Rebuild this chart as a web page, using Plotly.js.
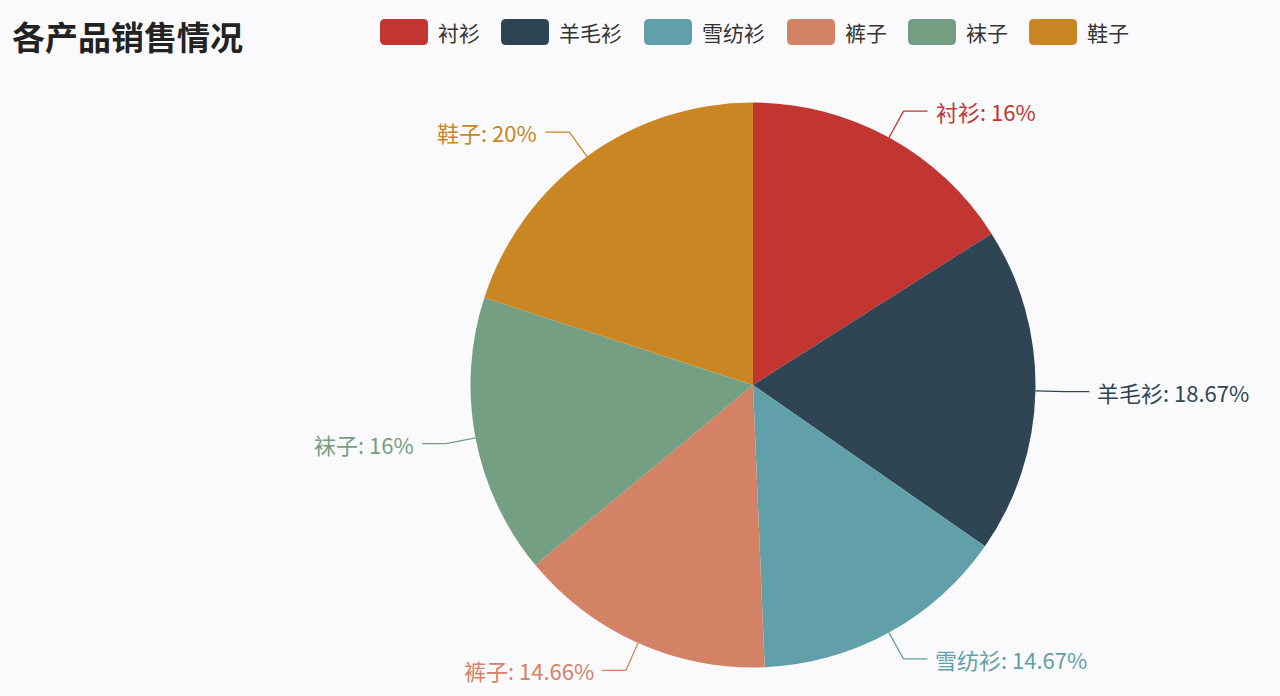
<!DOCTYPE html>
<html>
<head>
<meta charset="utf-8">
<script src="https://cdn.plot.ly/plotly-3.0.1.min.js"></script>
<style>
  html, body { margin: 0; padding: 0; background: #fafafc; }
  #chart { width: 1280px; height: 696px; }
</style>
</head>
<body>
<div id="chart"></div>
<script>
// 数据
var products = ['衬衫', '羊毛衫', '雪纺衫', '裤子', '袜子', '鞋子'];
var shares = [16, 18.67, 14.67, 14.66, 16, 20];
var colors = ['#c23531', '#2f4554', '#61a0a8', '#d48265', '#749f83', '#ca8622'];

var W = 1280, H = 696;
var cx = 753, cy = 385, R = 282.5;   // 饼图中心和半径 (像素)
var fontFam = '"Noto Sans CJK SC", "Noto Sans", sans-serif';

function px(x) { return x / W; }
function py(y) { return 1 - y / H; }

var pie = {
    type: 'pie',
    labels: products,
    values: shares,
    sort: false,
    direction: 'clockwise',
    rotation: 0,
    textinfo: 'none',
    hoverinfo: 'label+percent',
    marker: { colors: colors, line: { width: 0 } },
    domain: { x: [px(cx - R), px(cx + R)], y: [py(cy + R), py(cy - R)] },
    showlegend: false
};

var shapes = [];
var annotations = [];

// 引导线和标签
var total = shares.reduce(function (a, b) { return a + b; }, 0);
var acc = 0;
for (var i = 0; i < shares.length; i++) {
    var mid = (acc + shares[i] / 2) / total * 2 * Math.PI;
    acc += shares[i];
    var sx = Math.sin(mid), sy = -Math.cos(mid);
    var x0 = cx + R * sx, y0 = cy + R * sy;
    var x1 = cx + (R + 30) * sx, y1 = cy + (R + 30) * sy;
    var dir = sx >= 0 ? 1 : -1;
    var x2 = x1 + dir * 24;
    shapes.push({
        type: 'path', xref: 'paper', yref: 'paper',
        path: 'M' + px(x0) + ',' + py(y0) + ' L' + px(x1) + ',' + py(y1) + ' L' + px(x2) + ',' + py(y1),
        line: { color: colors[i], width: 1.3 }
    });
    annotations.push({
        xref: 'paper', yref: 'paper',
        x: px(x2 + dir * 6), y: py(y1),
        xanchor: dir > 0 ? 'left' : 'right', yanchor: 'middle',
        text: products[i] + ': ' + shares[i] + '%',
        showarrow: false,
        font: { family: fontFam, size: 22, color: colors[i] }
    });
}

// 图例 (圆角色块 + 文字)
var lx = 380;
var boxW = 48, boxH = 26, rr = 5, boxTop = 19;
for (i = 0; i < products.length; i++) {
    var a = lx, b = lx + boxW, t = boxTop, bt = boxTop + boxH;
    shapes.push({
        type: 'path', xref: 'paper', yref: 'paper',
        path: 'M' + px(a + rr) + ',' + py(t) + ' L' + px(b - rr) + ',' + py(t) +
              ' Q' + px(b) + ',' + py(t) + ' ' + px(b) + ',' + py(t + rr) +
              ' L' + px(b) + ',' + py(bt - rr) +
              ' Q' + px(b) + ',' + py(bt) + ' ' + px(b - rr) + ',' + py(bt) +
              ' L' + px(a + rr) + ',' + py(bt) +
              ' Q' + px(a) + ',' + py(bt) + ' ' + px(a) + ',' + py(bt - rr) +
              ' L' + px(a) + ',' + py(t + rr) +
              ' Q' + px(a) + ',' + py(t) + ' ' + px(a + rr) + ',' + py(t) + ' Z',
        fillcolor: colors[i], line: { width: 0 }
    });
    annotations.push({
        xref: 'paper', yref: 'paper',
        x: px(lx + boxW + 8), y: py(boxTop + boxH / 2),
        xanchor: 'left', yanchor: 'middle',
        text: products[i], showarrow: false,
        font: { family: fontFam, size: 21, color: '#333' }
    });
    lx += boxW + 9 + products[i].length * 22 + 20;
}

var layout = {
    width: W, height: H,
    paper_bgcolor: '#fafafc',
    plot_bgcolor: '#fafafc',
    margin: { l: 0, r: 0, t: 0, b: 0 },
    title: {
        text: '<b>各产品销售情况</b>',
        x: 12 / W, xanchor: 'left',
        y: py(38), yanchor: 'middle',
        font: { family: fontFam, size: 33, color: '#222' }
    },
    shapes: shapes,
    annotations: annotations,
    showlegend: false
};

Plotly.newPlot('chart', [pie], layout, { displayModeBar: false });
</script>
</body>
</html>
